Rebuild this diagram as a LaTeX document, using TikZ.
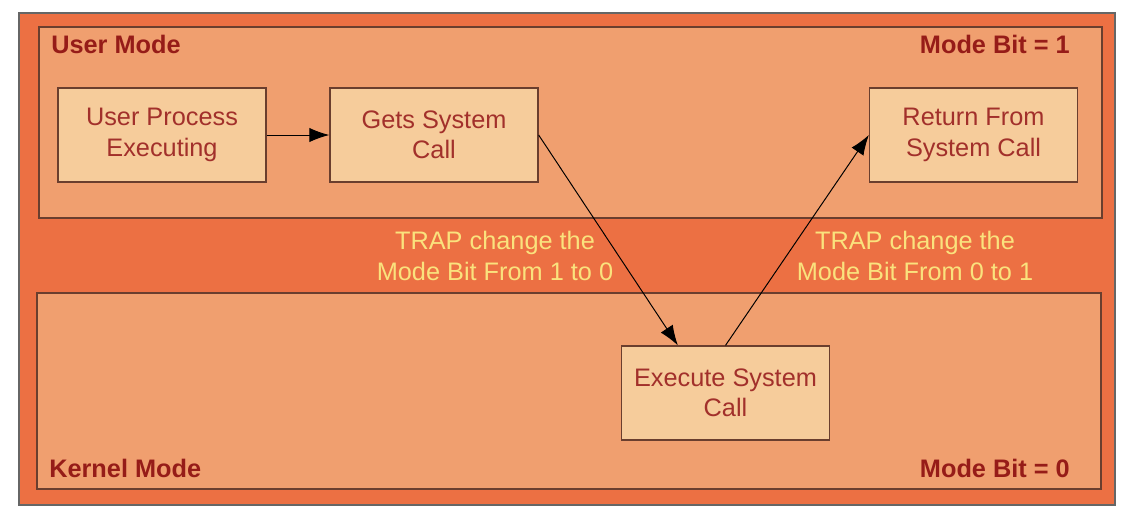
\documentclass[tikz,border=0pt]{standalone}
\usepackage{fontspec}
\setmainfont{Liberation Sans}
\usetikzlibrary{arrows.meta}

\definecolor{outerfill}{HTML}{EC7043}
\definecolor{modefill}{HTML}{F09F6F}
\definecolor{boxfill}{HTML}{F6CC9B}
\definecolor{edgebrown}{HTML}{6A3E2E}
\definecolor{labelred}{HTML}{961C18}
\definecolor{boxred}{HTML}{A2302B}
\definecolor{trapyellow}{HTML}{FAE27D}

\begin{document}
\begin{tikzpicture}[x=0.025cm, y=-0.025cm,
  procbox/.style={draw=edgebrown, line width=0.9pt, fill=boxfill,
    minimum width=5.2cm, minimum height=2.35cm, align=center,
    text=boxred, font=\fontsize{18}{21.5}\selectfont},
  modelabel/.style={text=labelred, font=\fontsize{18}{20}\selectfont\bfseries, inner sep=0pt},
  traplabel/.style={text=trapyellow, align=center, font=\fontsize{18}{21.5}\selectfont},
  flow/.style={line width=0.7pt, -{Latex[length=5mm,width=3.6mm]}}]

\useasboundingbox (0,0) rectangle (1136,522);

% frame and the two modes
\draw [fill=outerfill, draw=gray!80!black, line width=1pt] (19,13) rectangle (1115,505);
\draw [fill=modefill, draw=edgebrown, line width=1pt] (39,27) rectangle (1102,218);
\draw [fill=modefill, draw=edgebrown, line width=1pt] (37,293) rectangle (1101,489);

\node [modelabel, anchor=west] (um) at (51,44) {User Mode};
\node [modelabel, anchor=east] (ub) at (1070,44) {Mode Bit = 1};
\node [modelabel, anchor=west] (km) at (49,468) {Kernel Mode};
\node [modelabel, anchor=east] (kb) at (1070,468) {Mode Bit = 0};

\node [procbox] (user) at (162,135) {User Process\\Executing};
\node [procbox] (gets) at (434,135) {Gets System\\Call};
\node [procbox] (ret) at (973.5,135) {Return From\\System Call};
\node [procbox] (exec) at (725.5,393) {Execute System\\Call};

\node [traplabel] (trapin) at (495,256) {TRAP change the\\Mode Bit From 1 to 0};
\node [traplabel] (trapout) at (915,256) {TRAP change the\\Mode Bit From 0 to 1};

\draw [flow] (user) -- (gets);
\draw [flow] (gets.east) -- (exec.135);
\draw [flow] (exec.north) -- (ret.west);

\end{tikzpicture}
\end{document}
